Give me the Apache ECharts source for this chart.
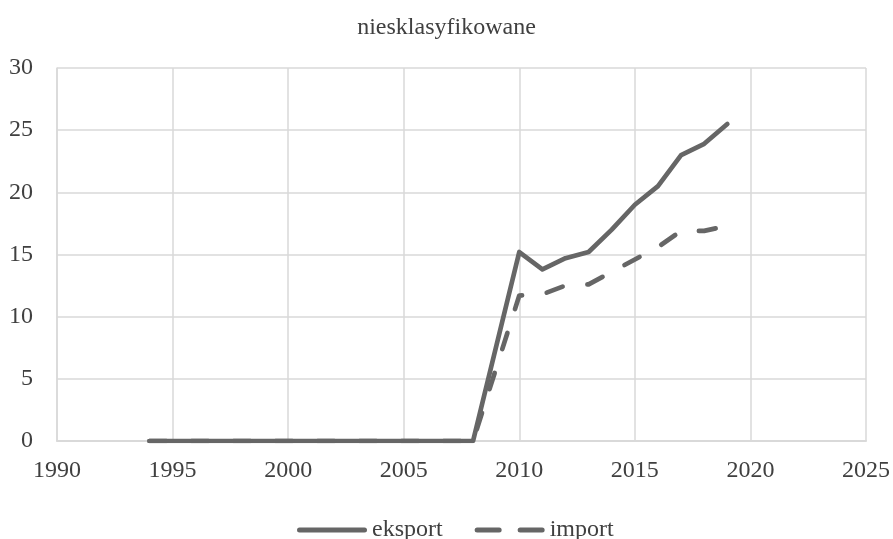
<!DOCTYPE html>
<html><head><meta charset="utf-8">
<script src="https://cdn.jsdelivr.net/npm/echarts@6/dist/echarts.min.js"></script>
<style>html,body{margin:0;padding:0;background:#fff}#c{width:893px;height:539px}</style>
</head><body><div id="c"></div>
<script>
const years = [1994,1995,1996,1997,1998,1999,2000,2001,2002,2003,2004,2005,2006,2007,2008,2010,2011,2012,2013,2014,2015,2016,2017,2018,2019];
const eksport = [0,0,0,0,0,0,0,0,0,0,0,0,0,0,0,15.2,13.8,14.7,15.2,17.0,19.0,20.5,23.0,23.9,25.5];
const importVals = [0,0,0,0,0,0,0,0,0,0,0,0,0,0,0,11.7,11.8,12.5,12.6,13.6,14.6,15.6,16.9,16.9,17.3];
const xTicks = [1990,1995,2000,2005,2010,2015,2020,2025];
const FONT = '"Liberation Serif", "DejaVu Serif", serif';
const TXT = '#404040';
const chart = echarts.init(document.getElementById('c'));
const pair = arr => years.map((y,i)=>[y,arr[i]]);
const solidIcon = 'path://M2.5,0H67.5A2.5,2.5 0 0 1 67.5,5H2.5A2.5,2.5 0 0 1 2.5,0Z';
const dashIcon = 'path://M2.5,0H24.5A2.5,2.5 0 0 1 24.5,5H2.5A2.5,2.5 0 0 1 2.5,0Z M45.5,0H67.5A2.5,2.5 0 0 1 67.5,5H45.5A2.5,2.5 0 0 1 45.5,0Z';
chart.setOption({
  animation:false,
  title:{text:'niesklasyfikowane',left:'center',top:11,textStyle:{fontFamily:FONT,fontSize:24,fontWeight:'normal',color:TXT}},
  grid:{left:57,right:27,top:68,bottom:98},
  legend:{top:513,left:292,itemWidth:70,itemHeight:5,itemGap:32,
    textStyle:{fontFamily:FONT,fontSize:24,color:TXT},
    data:[{name:'eksport',icon:solidIcon},{name:'import',icon:dashIcon}]},
  xAxis:{type:'value',min:xTicks[0],max:xTicks[xTicks.length-1],interval:5,
    axisLine:{show:true,lineStyle:{color:'#d9d9d9',width:2}},axisTick:{show:false},
    splitLine:{show:true,lineStyle:{color:'#d9d9d9',width:1.5}},
    axisLabel:{fontFamily:FONT,fontSize:24,color:TXT,margin:18,formatter:v=>String(v)}},
  yAxis:{type:'value',min:0,max:30,interval:5,
    axisLine:{show:true,lineStyle:{color:'#d9d9d9',width:1.5}},axisTick:{show:false},
    splitLine:{show:true,lineStyle:{color:'#d9d9d9',width:1.5}},
    axisLabel:{fontFamily:FONT,fontSize:24,color:TXT,margin:24}},
  series:[
    {name:'eksport',type:'line',data:pair(eksport),showSymbol:false,symbol:'none',
      lineStyle:{color:'#666666',width:4.7,cap:'round',join:'round'},itemStyle:{color:'#666666'}},
    {name:'import',type:'line',data:pair(importVals),showSymbol:false,symbol:'none',
      lineStyle:{color:'#666666',width:4.7,type:[17,25],cap:'round',join:'round'},itemStyle:{color:'#666666'}}
  ]
});
</script></body></html>
